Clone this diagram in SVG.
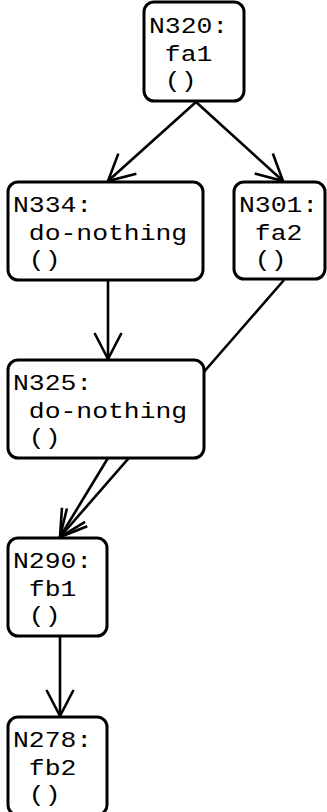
<svg xmlns="http://www.w3.org/2000/svg" width="327" height="812" viewBox="0 0 327 812">
  <style>
    .box { fill: #ffffff; stroke: #000000; stroke-width: 3; }
    .lbl { font-family: "Liberation Mono", "DejaVu Sans Mono", monospace; font-size: 22px; fill: #000000; }
    .edge { fill: none; stroke: #000000; stroke-width: 2.6; marker-end: url(#vee); }
  </style>
  <defs>
    <marker id="vee" markerUnits="userSpaceOnUse" markerWidth="40" markerHeight="40" viewBox="-30 -20 34 40" refX="0" refY="0" orient="auto">
      <path d="M-26,-13.5 L0,0 L-26,13.5" fill="none" stroke="#000000" stroke-width="2.6" stroke-linejoin="miter"/>
    </marker>
  </defs>

  <!-- connectors are drawn first so the node fills hide the crossing -->
  <g id="connectors">
    <path class="edge" d="M196,102 L108,181"/>
    <path class="edge" d="M196,102 L283,181"/>
    <path class="edge" d="M108,280 L108,359"/>
    <path class="edge" d="M284,280 L60,537"/>
    <path class="edge" d="M108,458 L60,537"/>
    <path class="edge" d="M60,637 L60,716"/>
  </g>

  <g id="N320">
    <rect class="box" x="144" y="2" width="100" height="99" rx="10"/>
    <g class="lbl" transform="translate(149,33) scale(1.2,1)">
      <text x="0" y="0">N320:</text>
      <text x="0" y="28" xml:space="preserve"> fa1</text>
      <text x="0" y="54" xml:space="preserve"> ()</text>
    </g>
  </g>

  <g id="N334">
    <rect class="box" x="8" y="182" width="195" height="98" rx="10"/>
    <g class="lbl" transform="translate(13,212) scale(1.2,1)">
      <text x="0" y="0">N334:</text>
      <text x="0" y="28" xml:space="preserve"> do-nothing</text>
      <text x="0" y="54" xml:space="preserve"> ()</text>
    </g>
  </g>

  <g id="N301">
    <rect class="box" x="234" y="182" width="91" height="97" rx="10"/>
    <g class="lbl" transform="translate(239,212) scale(1.2,1)">
      <text x="0" y="0">N301:</text>
      <text x="0" y="28" xml:space="preserve"> fa2</text>
      <text x="0" y="54" xml:space="preserve"> ()</text>
    </g>
  </g>

  <g id="N325">
    <rect class="box" x="8" y="360" width="196" height="98" rx="10"/>
    <g class="lbl" transform="translate(13,390) scale(1.2,1)">
      <text x="0" y="0">N325:</text>
      <text x="0" y="28" xml:space="preserve"> do-nothing</text>
      <text x="0" y="54" xml:space="preserve"> ()</text>
    </g>
  </g>

  <g id="N290">
    <rect class="box" x="8" y="538" width="99" height="98" rx="10"/>
    <g class="lbl" transform="translate(13,568) scale(1.2,1)">
      <text x="0" y="0">N290:</text>
      <text x="0" y="28" xml:space="preserve"> fb1</text>
      <text x="0" y="54" xml:space="preserve"> ()</text>
    </g>
  </g>

  <g id="N278">
    <rect class="box" x="8" y="717" width="99" height="98" rx="10"/>
    <g class="lbl" transform="translate(13,747) scale(1.2,1)">
      <text x="0" y="0">N278:</text>
      <text x="0" y="28" xml:space="preserve"> fb2</text>
      <text x="0" y="54" xml:space="preserve"> ()</text>
    </g>
  </g>
</svg>
